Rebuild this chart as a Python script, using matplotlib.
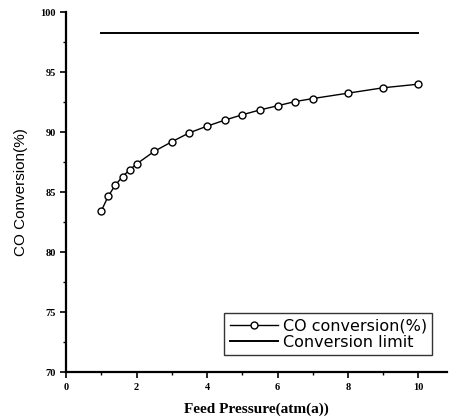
import matplotlib.pyplot as plt
from matplotlib.ticker import MultipleLocator

# Data
pressure = [1.0, 1.2, 1.4, 1.6, 1.8, 2.0, 2.5, 3.0, 3.5, 4.0, 4.5,
            5.0, 5.5, 6.0, 6.5, 7.0, 8.0, 9.0, 10.0]
conversion = [83.45, 84.7, 85.6, 86.3, 86.85, 87.35, 88.4, 89.2, 89.95,
              90.5, 91.0, 91.45, 91.85, 92.2, 92.55, 92.8, 93.25, 93.7, 94.0]
limit_x = [1.0, 10.0]
limit_y = [98.3, 98.3]

fig = plt.figure(figsize=(4.5, 4.2), dpi=100)
ax = fig.add_axes([0.147, 0.114, 0.847, 0.857])

ax.plot(pressure, conversion, '-o', color='black', lw=1.0, ms=5,
        mfc='white', mec='black', mew=1.0, label='CO conversion(%)')
ax.plot(limit_x, limit_y, '-', color='black', lw=1.4, label='Conversion limit')

ax.set_xlim(0, 10.82)
ax.set_ylim(70, 100)
ax.xaxis.set_major_locator(MultipleLocator(2))
ax.xaxis.set_minor_locator(MultipleLocator(1))
ax.yaxis.set_major_locator(MultipleLocator(5))
ax.yaxis.set_minor_locator(MultipleLocator(2.5))

for s in ['top', 'right']:
    ax.spines[s].set_visible(False)
for s in ['left', 'bottom']:
    ax.spines[s].set_linewidth(1.6)

ax.tick_params(which='major', direction='out', length=4, width=1.2)
ax.tick_params(which='minor', direction='out', length=2.5, width=1.0)
for lab in ax.get_xticklabels() + ax.get_yticklabels():
    lab.set_fontfamily('Liberation Serif')
    lab.set_fontweight('bold')
    lab.set_fontsize(7.5)

ax.set_xlabel('Feed Pressure(atm(a))', family='Liberation Serif',
              fontweight='bold', fontsize=11, labelpad=8)
ax.set_ylabel('CO Conversion(%)', family='Liberation Sans',
              fontsize=11, labelpad=9)

leg = ax.legend(loc='lower right', bbox_to_anchor=(0.961, 0.047),
                prop={'family': 'DejaVu Sans', 'size': 11.5},
                frameon=True, fancybox=False, edgecolor='black',
                handlelength=3.0, borderpad=0.35, labelspacing=0.05,
                handletextpad=0.3, borderaxespad=0)
leg.get_frame().set_linewidth(1.0)

fig.savefig('out.png', dpi=100)
